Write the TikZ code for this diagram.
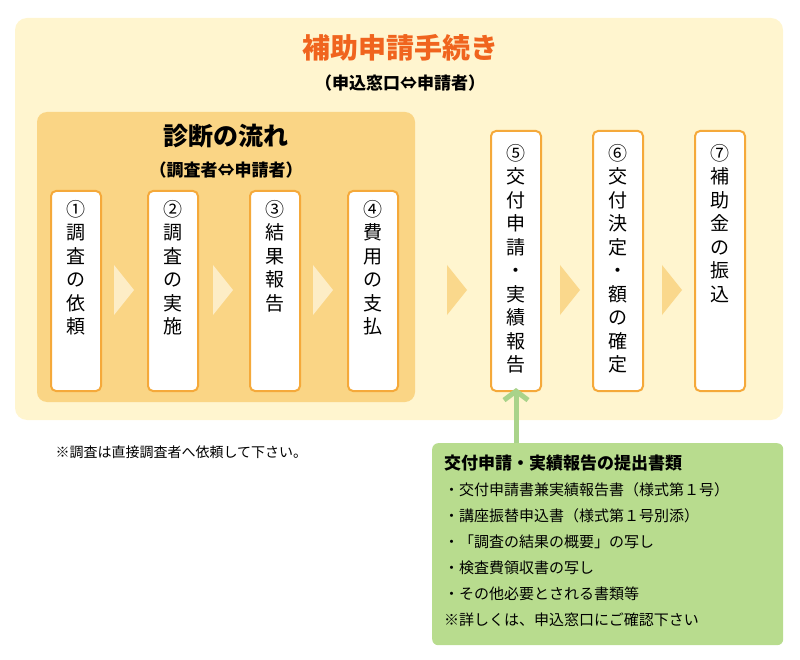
\documentclass[tikz,border=0pt]{standalone}
\usepackage{fontspec}
\usetikzlibrary{arrows.meta}
\setmainfont{Noto Sans CJK JP}
\definecolor{cream}{HTML}{FFF5CF}
\definecolor{inner}{HTML}{FAD585}
\definecolor{bord}{HTML}{F5A93A}
\definecolor{ttl}{HTML}{F0641E}
\definecolor{grn}{HTML}{B8DC8E}
\definecolor{arr}{HTML}{A9D38A}
\definecolor{chevin}{HTML}{FDEDC6}
\definecolor{chevout}{HTML}{FAD88C}
\begin{document}
\begin{tikzpicture}[x=1pt,y=-1pt,
 stepbox/.style={draw=bord,line width=2pt,fill=white,rounded corners=5pt,minimum width=50pt,align=center,inner sep=0pt},
 vtext/.style={anchor=north,align=center,font=\fontsize{19}{23.5}\selectfont,inner sep=0pt}]
\useasboundingbox (0,0) rectangle (800,660);
\node[fill=cream,rounded corners=12pt,minimum width=768pt,minimum height=402pt] (outer) at (399,219) {};
\node[font=\fontsize{28}{32}\selectfont\bfseries,text=ttl] (t1) at (400,48) {補助申請手続き};
\node[font=\fontsize{17}{20}\selectfont\bfseries] (t2) at (400,83) {（申込窓口⇔申請者）};
\node[fill=inner,rounded corners=10pt,minimum width=378pt,minimum height=290pt] (inn) at (226,257) {};
\node[font=\fontsize{25}{28}\selectfont\bfseries] (t3) at (226,136) {診断の流れ};
\node[font=\fontsize{17}{20}\selectfont\bfseries] (t4) at (226,170) {（調査者⇔申請者）};
\foreach \x/\n/\t in {76/s1/①\\調\\査\\の\\依\\頼,173/s2/②\\調\\査\\の\\実\\施,275/s3/③\\結\\果\\報\\告,373/s4/④\\費\\用\\の\\支\\払}{
 \node[stepbox,minimum height=200pt,anchor=north] (\n) at (\x,190) {};
 \node[vtext] at (\x,200) {\t};}
\foreach \x/\n/\t in {516/s5/⑤\\交\\付\\申\\請\\・\\実\\績\\報\\告,618/s6/⑥\\交\\付\\決\\定\\・\\額\\の\\確\\定,720/s7/⑦\\補\\助\\金\\の\\振\\込}{
 \node[stepbox,minimum height=260pt,anchor=north] (\n) at (\x,130) {};
 \node[vtext] at (\x,144) {\t};}
\foreach \x in {114,213,313}{\fill[chevin] (\x,265)--(\x+20,290)--(\x,315)--cycle;}
\foreach \x in {447,560,662}{\fill[chevout] (\x,265)--(\x+20,290)--(\x,315)--cycle;}
\node[anchor=west,font=\fontsize{14}{16}\selectfont] (note) at (52,452) {※調査は直接調査者へ依頼して下さい。};
\node[fill=grn,rounded corners=6pt,minimum width=351pt,minimum height=202pt,anchor=north west] (g) at (432,443) {};
\coordinate (ga) at (516,443);
\draw[arr,line width=5pt,-{Straight Barb[length=9pt,width=24pt]}] (ga) -- ([yshift=4pt]s5.south);
\node[anchor=north west,align=left,inner sep=0pt,font=\fontsize{15}{26}\selectfont] (gt) at (444,455)
{{\fontsize{17}{26}\selectfont\bfseries 交付申請・実績報告の提出書類}\\
・交付申請書兼実績報告書（様式第１号）\\
・講座振替申込書（様式第１号別添）\\
・「調査の結果の概要」の写し\\
・検査費領収書の写し\\
・その他必要とされる書類等\\
※詳しくは、申込窓口にご確認下さい};
\end{tikzpicture}
\end{document}
